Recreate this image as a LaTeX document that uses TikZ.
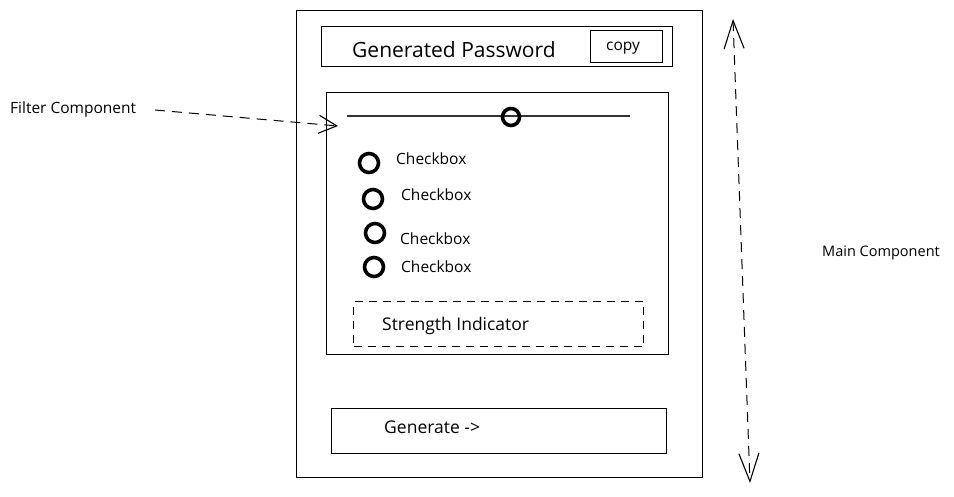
\documentclass[tikz,border=0pt]{standalone}
\usepackage{fontspec}
\setmainfont{Open Sans}
\usetikzlibrary{arrows.meta,positioning}

\begin{document}
\begin{tikzpicture}[x=1pt,y=-1pt,
  box/.style={draw,line width=1.1pt,inner sep=0pt,anchor=north west},
  dashbox/.style={box,dash pattern=on 8pt off 6pt},
  knob/.style={draw,circle,line width=3.6pt,inner sep=0pt,minimum size=17pt},
  txt/.style={font=\fontsize{15.5}{17}\selectfont,anchor=west,inner sep=0pt},
  pointer/.style={line width=1pt,dash pattern=on 10pt off 7pt,
    -{Straight Barb[length=18pt,width=18pt,line width=1.1pt]}}]
  \useasboundingbox (0,0) rectangle (954,496);
  % outer component
  \node[box,line width=1.4pt,minimum width=406pt,minimum height=467pt] (main) at (296,10) {};
  % password field
  \node[box,minimum width=351pt,minimum height=40pt] (pwd) at (321,26) {};
  \node[txt,font=\fontsize{21}{23}\selectfont] (pwdtxt) at (352,50) {Generated Password};
  \node[box,minimum width=72pt,minimum height=32pt] (copy) at (590,30) {};
  \node[txt] (copytxt) at (606,48) {copy};
  % filter panel
  \node[box,minimum width=342pt,minimum height=262pt] (filter) at (326,92) {};
  \coordinate (slideL) at (347,116);
  \coordinate (slideR) at (630,116);
  \draw[line width=1.8pt,black!80] (slideL) -- (slideR);
  \node[knob] (knob) at (511,117) {};
  % checkboxes
  \node[knob,minimum size=19pt] (cb1) at (369,163) {};
  \node[knob,minimum size=19pt] (cb2) at (373,199) {};
  \node[knob,minimum size=19pt] (cb3) at (375,233) {};
  \node[knob,minimum size=19pt] (cb4) at (374,267) {};
  \node[txt] (cbtxt1) at (396,159) {Checkbox};
  \node[txt] (cbtxt2) at (401,195) {Checkbox};
  \node[txt] (cbtxt3) at (400,239) {Checkbox};
  \node[txt] (cbtxt4) at (401,267) {Checkbox};
  % strength indicator
  \node[dashbox,minimum width=290pt,minimum height=45pt] (strength) at (353,301) {};
  \node[txt,font=\fontsize{17.5}{19}\selectfont] (strtxt) at (382,326) {Strength Indicator};
  % generate button
  \node[box,minimum width=335pt,minimum height=45pt] (gen) at (331,408) {};
  \node[txt,font=\fontsize{17.5}{19}\selectfont] (gentxt) at (384,427) {Generate ->};
  % annotations
  \node[txt] (filtxt) at (10,109) {Filter Component};
  \coordinate (filfrom) at (155,110);
  \coordinate (filtip) at (338,126);
  \draw[pointer] (filfrom) -- (filtip);
  \node[txt,font=\fontsize{14.5}{16}\selectfont] (maintxt) at (822,253) {Main Component};
  \coordinate (maintop) at (733,19);
  \coordinate (mainbot) at (750,483);
  \draw[pointer,{Straight Barb[length=28pt,width=20pt,line width=1.1pt]}-{Straight Barb[length=28pt,width=20pt,line width=1.1pt]}] (maintop) -- (mainbot);
\end{tikzpicture}
\end{document}
